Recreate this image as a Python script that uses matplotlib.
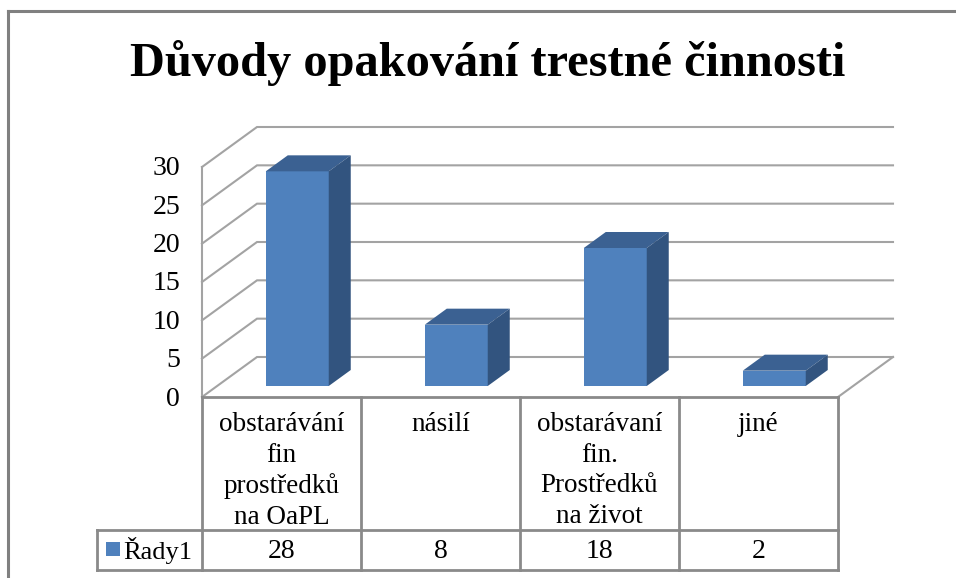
"""
Reasons for repeated criminal activity, drawn as a fake 3D column chart
with a data table underneath.
"""

import matplotlib
matplotlib.use("Agg")
import matplotlib.pyplot as plt
from matplotlib.lines import Line2D
from matplotlib.patches import Polygon, Rectangle


title = "Důvody opakování trestné činnosti"
categories = ["obstarávání\nfin\nprostředků\nna OaPL", "násilí",
              "obstarávaní\nfin.\nProstředků\nna život", "jiné"]
values = [28, 8, 18, 2]
seriesName = "Řady1"
yTicks = [0, 5, 10, 15, 20, 25, 30]

WIDTH, HEIGHT = 956, 578
LEFT, BOTTOM, CELL, UNIT = 202, 397, 159, 230 / 30
DEPTH_X, DEPTH_Y = 55, 40
SERIF = "Liberation Serif"
FRONT, TOP, SIDE = "#4F81BD", "#3B6192", "#32547F"
GRID, BORDER = "#A3A3A3", "#8A8A8A"

plt.rcParams["font.family"] = SERIF


def project(cat, val, depth):
    """
    Maps (category position, value, depth 0-1) to the data coords of the axes.
    """
    return (cat + depth * DEPTH_X / CELL, val + depth * DEPTH_Y / UNIT)


def drawBar(ax, i, value):
    """
    Draws one column as three polygons: front, top and side.
    """
    x0, x1 = i + 0.306, i + 0.702
    d0, d1 = 0.275, 0.675
    ax.add_patch(Polygon([project(x0, 0, d0), project(x1, 0, d0),
                          project(x1, value, d0), project(x0, value, d0)],
                         color=FRONT, lw=0, clip_on=False, zorder=3))
    ax.add_patch(Polygon([project(x0, value, d0), project(x1, value, d0),
                          project(x1, value, d1), project(x0, value, d1)],
                         color=TOP, lw=0, clip_on=False, zorder=3))
    ax.add_patch(Polygon([project(x1, 0, d0), project(x1, 0, d1),
                          project(x1, value, d1), project(x1, value, d0)],
                         color=SIDE, lw=0, clip_on=False, zorder=3))


def main():
    fig = plt.figure(figsize=(WIDTH / 100, HEIGHT / 100), dpi=100)
    ax = fig.add_axes([LEFT / WIDTH, 1 - BOTTOM / HEIGHT,
                       4 * CELL / WIDTH, 30 * UNIT / HEIGHT])
    ax.set_xlim(0, 4)
    ax.set_ylim(0, 30)
    ax.axis("off")

    def pxLine(xs, ys, color=BORDER, lw=2.0):
        fig.add_artist(Line2D([x / WIDTH for x in xs],
                              [1 - y / HEIGHT for y in ys],
                              color=color, lw=lw,
                              solid_capstyle="projecting"))

    def pxText(x, y, s, **kw):
        fig.text(x / WIDTH, 1 - y / HEIGHT, s, color="black", **kw)

    # Outer frame, only left and top survive the crop
    pxLine([8, 8], [11, HEIGHT], "#808080", 2.2)
    pxLine([8, WIDTH], [11, 11], "#808080", 2.2)

    # Walls and gridlines
    for tick in yTicks:
        a, b = project(0, tick, 0), project(0, tick, 1)
        c = project(4, tick, 1)
        ax.plot([a[0], b[0], c[0]], [a[1], b[1], c[1]], color=GRID, lw=1.5,
                clip_on=False, zorder=1, solid_joinstyle="miter")
        pxText(LEFT - 22, BOTTOM + 2 - tick * UNIT, str(tick), ha="right",
               va="center", fontsize=20)
    ax.plot([0, 0], [0, 30], color=GRID, lw=1.5, clip_on=False, zorder=1)
    a, b = project(4, 0, 0), project(4, 0, 1)
    ax.plot([a[0], b[0]], [a[1], b[1]], color=GRID, lw=1.5, clip_on=False,
            zorder=1)

    for i, value in enumerate(values):
        drawBar(ax, i, value)

    # Data table
    tableRight = LEFT + 4 * CELL
    rowMid, rowEnd = 530, 570
    pxLine([LEFT, tableRight], [BOTTOM, BOTTOM])
    pxLine([97, tableRight], [rowMid, rowMid])
    pxLine([97, tableRight], [rowEnd, rowEnd])
    pxLine([97, 97], [rowMid, rowEnd])
    for i in range(5):
        x = LEFT + i * CELL
        pxLine([x, x], [BOTTOM, rowEnd])
    for i, (cat, value) in enumerate(zip(categories, values)):
        x = LEFT + (i + 0.5) * CELL
        pxText(x, 412, cat, ha="center", va="top", fontsize=19.5,
               linespacing=1.29)
        pxText(x, 551, str(value), ha="center", va="center", fontsize=20)

    fig.add_artist(Rectangle((106 / WIDTH, 1 - 556 / HEIGHT),
                             14 / WIDTH, 14 / HEIGHT,
                             transform=fig.transFigure, color=FRONT, lw=0))
    pxText(123, 551, seriesName, ha="left", va="center", fontsize=19)

    pxText(487.5, 63, title, ha="center", va="center", fontsize=34.8,
           fontweight="bold")

    fig.savefig("out.png", dpi=100)


if __name__ == "__main__":
    main()
